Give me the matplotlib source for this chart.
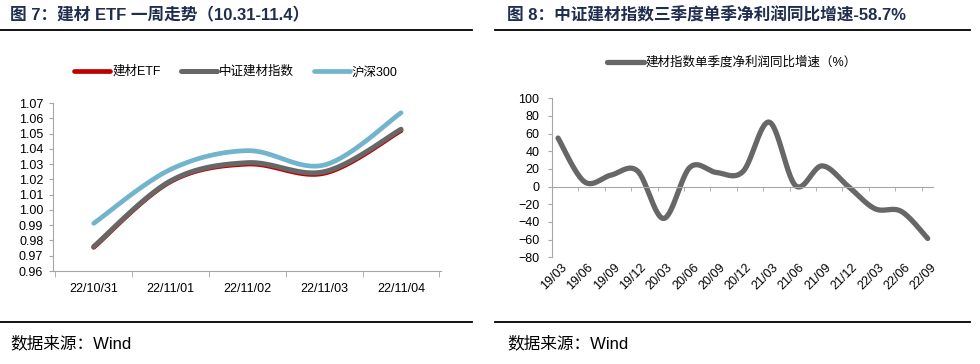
import numpy as np
import matplotlib
matplotlib.use('Agg')
import matplotlib.pyplot as plt
from matplotlib.lines import Line2D
from matplotlib.transforms import ScaledTranslation

plt.rcParams['font.family'] = ['Liberation Sans', 'Noto Sans CJK SC', 'DejaVu Sans']

# 图7：一周走势
dates7 = ['22/10/31', '22/11/01', '22/11/02', '22/11/03', '22/11/04']
etf = [0.9755, 1.0185, 1.0300, 1.0240, 1.0519]
index_jc = [0.9760, 1.0190, 1.0309, 1.0250, 1.0528]
hs300 = [0.9912, 1.0265, 1.0388, 1.0294, 1.0636]

# 图8：单季净利润同比增速
quarters = ['19/03', '19/06', '19/09', '19/12', '20/03', '20/06', '20/09', '20/12',
            '21/03', '21/06', '21/09', '21/12', '22/03', '22/06', '22/09']
growth = [55, 5.5, 13, 18, -36, 22, 16, 17, 73, 1, 23.5, 0, -25, -28, -58.7]

RED = '#C00000'
GRAY = '#676767'
BLUE = '#73B4CD'
AXC = '#A6A6A6'
NAVY = '#1F2D4E'


def smooth(y, n=30):
    # excel-style smoothed line (bezier through the points)
    y = np.asarray(y, float)
    p = np.column_stack([np.arange(len(y), dtype=float), y])
    ext = np.vstack([p[0], p, p[-1]])
    t = np.linspace(0, 1, n)[:, None]
    segs = []
    for i in range(len(p) - 1):
        p0, p1, p2, p3 = ext[i], ext[i + 1], ext[i + 2], ext[i + 3]
        c1 = p1 + (p2 - p0) / 6
        c2 = p2 - (p3 - p1) / 6
        b = (1 - t) ** 3 * p1 + 3 * (1 - t) ** 2 * t * c1 + 3 * (1 - t) * t ** 2 * c2 + t ** 3 * p2
        segs.append(b if i == 0 else b[1:])
    out = np.vstack(segs)
    return out[:, 0], out[:, 1]


fig = plt.figure(figsize=(9.8, 3.64), dpi=100)
W, H = 980, 364

# ---------- 图7 ----------
ax1 = fig.add_axes([53 / W, 1 - 271 / H, (441 - 53) / W, (271 - 103) / H])
for vals, col, lw, name in [(etf, RED, 3.4, '建材ETF'),
                            (index_jc, GRAY, 3.6, '中证建材指数'),
                            (hs300, BLUE, 3.4, '沪深300')]:
    xs, ys = smooth(vals)
    ax1.plot(xs, ys, color=col, lw=lw, solid_capstyle='round', label=name)

ax1.set_xlim(-0.53, 4.52)
ax1.set_ylim(0.96, 1.07)
ax1.set_yticks(np.arange(0.96, 1.0701, 0.01))
ax1.set_yticklabels([f'{v:.2f}' for v in np.arange(0.96, 1.0701, 0.01)])
ax1.set_xticks(range(len(dates7)))
ax1.set_xticklabels(dates7)
ax1.set_xticks(np.arange(-0.5, len(dates7)), minor=True)
ax1.tick_params(axis='x', which='major', length=0, pad=9, labelsize=9)
ax1.tick_params(axis='x', which='minor', length=4, direction='out', color=AXC)
ax1.tick_params(axis='y', length=3, direction='out', color=AXC, pad=4, labelsize=9)
for s in ['top', 'right']:
    ax1.spines[s].set_visible(False)
for s in ['left', 'bottom']:
    ax1.spines[s].set_color(AXC)
ax1.legend(loc='center', bbox_to_anchor=(236 / W, 1 - 72 / H), bbox_transform=fig.transFigure,
           ncol=3, frameon=False, fontsize=9, handlelength=2.9, handletextpad=0.15,
           columnspacing=1.6)

# ---------- 图8 ----------
ax2 = fig.add_axes([551.7 / W, 1 - 257.3 / H, (933 - 551.7) / W, (257.3 - 98.3) / H])
xs, ys = smooth(growth)
ax2.plot(xs, ys, color=GRAY, lw=3.8, solid_capstyle='round',
         label='建材指数单季度净利润同比增速（%）')
ax2.set_xlim(-0.24, 14.2)
ax2.set_ylim(-80, 100)
ax2.set_yticks(range(-80, 101, 20))
ax2.set_xticks(range(len(quarters)))
ax2.set_xticks(np.arange(len(quarters) - 1) + 0.77, minor=True)
ax2.spines['top'].set_position(('data', 0))
ax2.spines['top'].set_color(AXC)
ax2.spines['left'].set_color(AXC)
ax2.spines['bottom'].set_visible(False)
ax2.spines['right'].set_visible(False)
ax2.tick_params(axis='x', which='major', top=False, bottom=True, labeltop=False,
                labelbottom=True, length=0, pad=6, labelsize=9)
ax2.tick_params(axis='x', which='minor', top=True, bottom=False, direction='in',
                length=3, color=AXC)
ax2.tick_params(axis='y', length=3, direction='out', color=AXC, pad=6, labelsize=9)
ax2.set_xticklabels(quarters)
off = ScaledTranslation(7 / 100, 0, fig.dpi_scale_trans)
for lab in ax2.get_xticklabels():
    lab.set_rotation(45)
    lab.set_ha('right')
    lab.set_va('center')
    lab.set_rotation_mode('anchor')
    lab.set_transform(lab.get_transform() + off)
ax2.legend(loc='center', bbox_to_anchor=(732 / W, 1 - 62.7 / H), bbox_transform=fig.transFigure,
           frameon=False, fontsize=9, handlelength=2.9, handletextpad=0.15)

# ---------- titles, rules, sources ----------
fig.text(10 / W, 1 - 15 / H, '图 7：建材 ETF 一周走势（10.31-11.4）', fontsize=12,
         fontweight='bold', color=NAVY, va='center')
fig.text(507 / W, 1 - 15 / H, '图 8：中证建材指数三季度单季净利润同比增速-58.7%', fontsize=12,
         fontweight='bold', color=NAVY, va='center')
for x0, x1 in [(0, 472), (495, 970)]:
    fig.add_artist(Line2D([x0 / W, x1 / W], [1 - 30 / H] * 2, color='black', lw=1.3))
    fig.add_artist(Line2D([x0 / W, x1 / W], [1 - 322 / H] * 2, color='black', lw=1.3))
fig.text(10 / W, 1 - 343 / H, '数据来源：Wind', fontsize=12, va='center')
fig.text(507 / W, 1 - 343 / H, '数据来源：Wind', fontsize=12, va='center')

fig.savefig('out.png', dpi=100)
